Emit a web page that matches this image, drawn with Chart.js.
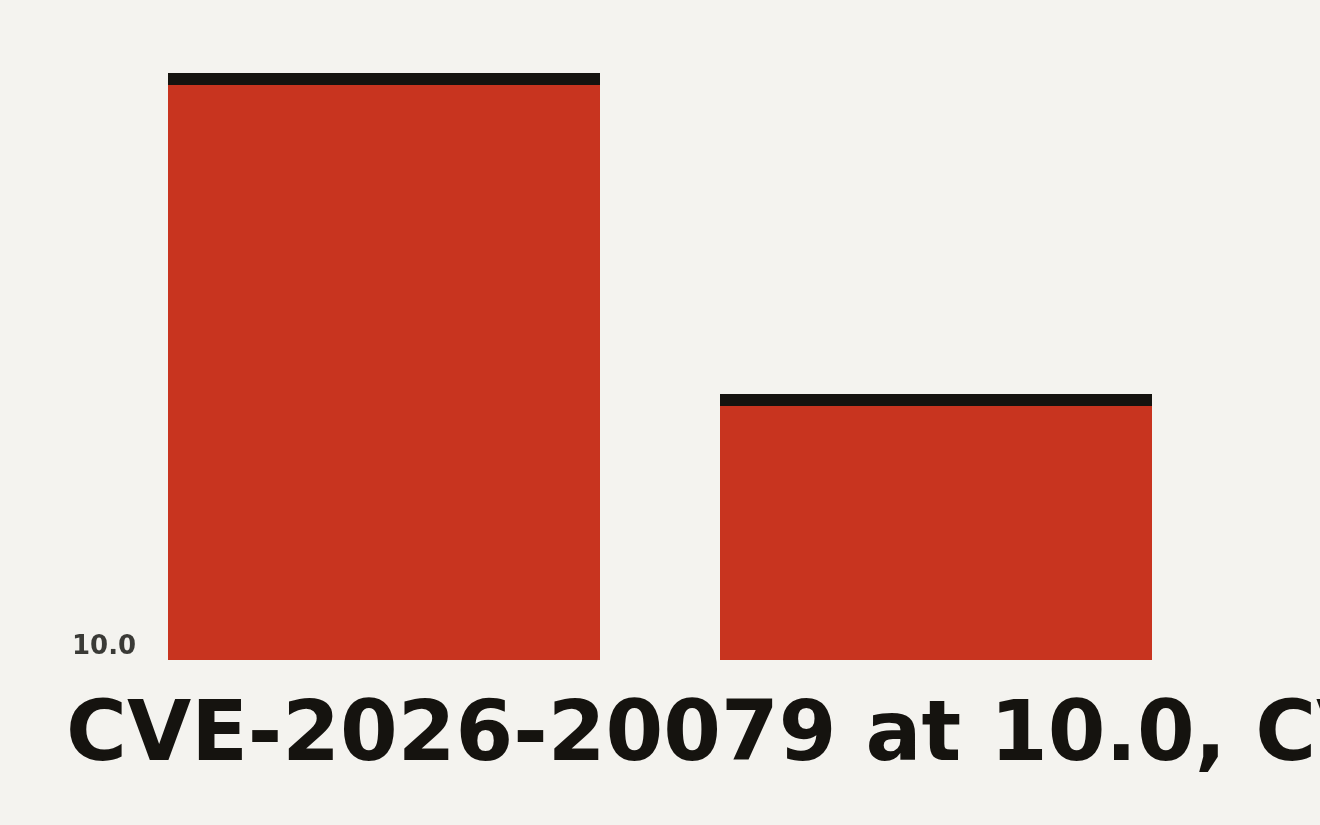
<!DOCTYPE html>
<html>
<head>
<meta charset="utf-8">
<script src="https://cdn.jsdelivr.net/npm/chart.js@4/dist/chart.umd.min.js"></script>
<style>
  html, body { margin: 0; padding: 0; background: #f4f3ef; }
  #wrap { width: 1320px; height: 825px; }
</style>
</head>
<body>
<div id="wrap"><canvas id="cvss"></canvas></div>
<script>
const categories = ['CVE-2026-20079', 'Other'];
const scores = [10.0, 4.53];
const yTickValues = [0];
const yTickLabels = ['10.0'];
const titleText = 'CVE-2026-20079 at 10.0, CVSS maximum severity';

// the headline runs off the right edge in the original, so draw it
// ourselves instead of letting the title plugin squeeze it to fit
const headline = {
  id: 'headline',
  afterDraw(chart) {
    const c = chart.ctx;
    c.save();
    c.font = 'bold 83px "DejaVu Sans"';
    c.fillStyle = '#15130f';
    c.textAlign = 'left';
    c.textBaseline = 'alphabetic';
    c.fillText(titleText, 66, 760);
    c.restore();
  }
};

const ctx = document.getElementById('cvss').getContext('2d');
new Chart(ctx, {
  type: 'bar',
  data: {
    labels: categories,
    datasets: [{
      data: scores,
      backgroundColor: '#c8341f',
      borderColor: '#15130f',
      borderWidth: { top: 12, left: 0, right: 0, bottom: 0 },
      borderSkipped: false,
      categoryPercentage: 1,
      barPercentage: 0.7826
    }]
  },
  options: {
    responsive: true,
    maintainAspectRatio: false,
    animation: false,
    layout: { padding: { left: 64, right: 108, top: 73, bottom: 165 } },
    plugins: {
      legend: { display: false },
      tooltip: { enabled: false }
    },
    scales: {
      x: {
        display: false
      },
      y: {
        min: 0,
        max: 10,
        border: { display: false },
        grid: { display: false, drawTicks: false },
        afterFit: function (scale) { scale.width = 44; },
        afterBuildTicks: function (scale) {
          scale.ticks = yTickValues.map(v => ({ value: v }));
        },
        ticks: {
          mirror: true,
          align: 'end',
          padding: -36,
          color: '#3a3a36',
          font: { family: 'DejaVu Sans', weight: 'bold', size: 26 },
          callback: function (value) {
            const i = yTickValues.indexOf(value);
            return i >= 0 ? yTickLabels[i] : '';
          }
        }
      }
    }
  },
  plugins: [headline]
});
</script>
</body>
</html>
